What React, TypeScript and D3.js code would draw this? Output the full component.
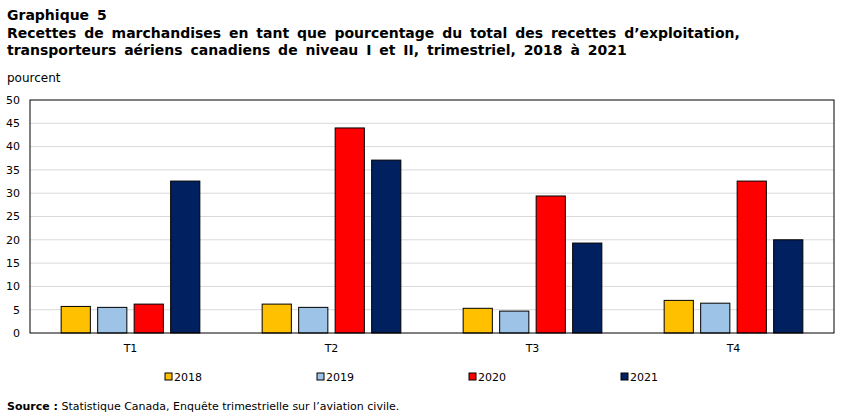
import React from 'react';
import * as d3 from 'd3';

const quarters = ['T1', 'T2', 'T3', 'T4'];
const years = ['2018', '2019', '2020', '2021'];
const colors = ['#FFC000', '#9DC3E6', '#FF0000', '#002060'];
const values2018 = [5.7, 6.2, 5.3, 7.0];
const values2019 = [5.5, 5.5, 4.7, 6.4];
const values2020 = [6.2, 44.0, 29.4, 32.6];
const values2021 = [32.6, 37.1, 19.3, 20.0];
const yTicks = [0, 5, 10, 15, 20, 25, 30, 35, 40, 45, 50];
const series = [values2018, values2019, values2020, values2021];

const font = 'Verdana, "DejaVu Sans", sans-serif';

export default function App() {
  const width = 851;
  const height = 417;
  const margin = { top: 100, right: 17, bottom: 84, left: 30 };
  const innerW = width - margin.left - margin.right;
  const innerH = height - margin.top - margin.bottom;

  const x0 = d3.scaleBand<string>().domain(quarters).range([0, innerW]).paddingInner(0.31).paddingOuter(0.155);
  const x1 = d3.scaleBand<string>().domain(years).range([0, x0.bandwidth()]).paddingInner(0.2).paddingOuter(0);
  const y = d3.scaleLinear().domain([0, 50]).range([innerH, 0]);

  const legendX = [165, 317, 469, 621];

  return (
    <svg width={width} height={height} style={{ position: 'absolute', left: 0, top: 0 }} fontFamily={font}>
      <rect width={width} height={height} fill="#fff" />
      <g fontWeight="bold" fontSize={14} fill="#000">
        <text x={7} y={20} style={{ wordSpacing: 3 }}>Graphique 5</text>
        <text x={7} y={38} style={{ wordSpacing: 3 }}>Recettes de marchandises en tant que pourcentage du total des recettes d’exploitation,</text>
        <text x={7} y={55} style={{ wordSpacing: 3 }}>transporteurs aériens canadiens de niveau I et II, trimestriel, 2018 à 2021</text>
      </g>
      <text x={7} y={82} fontSize={12}>pourcent</text>
      <g transform={`translate(${margin.left},${margin.top})`}>
        {yTicks.map((t) => (
          <g key={t}>
            {t > 0 && t < 50 && (
              <line x1={0} x2={innerW} y1={y(t)} y2={y(t)} stroke="#d9d9d9" strokeWidth={1} />
            )}
            <text x={-10} y={y(t)} dy="0.35em" textAnchor="end" fontSize={11}>{t}</text>
          </g>
        ))}
        {quarters.map((q, qi) => (
          <g key={q} transform={`translate(${x0(q)},0)`}>
            {years.map((yr, si) => (
              <rect
                key={yr}
                x={x1(yr)}
                y={y(series[si][qi])}
                width={x1.bandwidth()}
                height={innerH - y(series[si][qi])}
                fill={colors[si]}
                stroke="#000"
                strokeWidth={1}
              />
            ))}
            <text x={x0.bandwidth() / 2} y={innerH + 19} textAnchor="middle" fontSize={11}>{q}</text>
          </g>
        ))}
        <rect x={0} y={0} width={innerW} height={innerH} fill="none" stroke="#000" strokeWidth={1} />
      </g>
      <g fontSize={11}>
        {years.map((yr, i) => (
          <g key={yr} transform={`translate(${legendX[i]},${373})`}>
            <rect x={0} y={0} width={7} height={7} fill={colors[i]} stroke="#000" strokeWidth={1} />
            <text x={9} y={8}>{yr}</text>
          </g>
        ))}
      </g>
      <text x={7} y={410} fontSize={11}>
        <tspan fontWeight="bold">Source :</tspan>
        <tspan> Statistique Canada, Enquête trimestrielle sur l’aviation civile.</tspan>
      </text>
    </svg>
  );
}
